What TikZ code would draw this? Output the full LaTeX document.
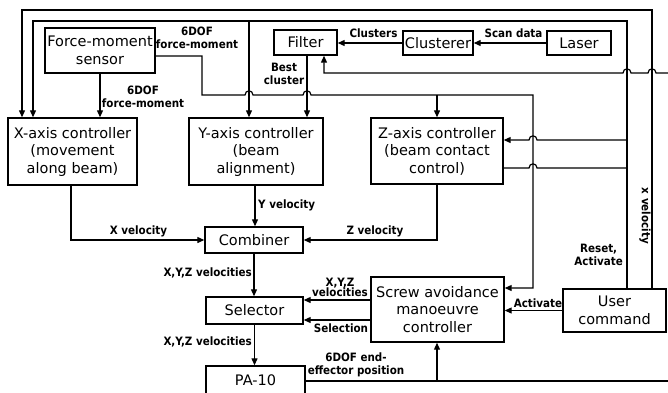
\documentclass[tikz,border=0pt]{standalone}
\usepackage{fontspec}
\setmainfont{DejaVu Sans}
\newfontfamily\lblfont{DejaVu Sans Condensed}
\usetikzlibrary{arrows.meta}

\begin{document}
\begin{tikzpicture}[x=1pt,y=-1pt,
  blk/.style={draw, line width=1.4pt, align=center, inner sep=0pt,
    font=\fontsize{14.5}{17.5}\selectfont},
  lbl/.style={font=\lblfont\bfseries\fontsize{11.5}{12.5}\selectfont,
    inner sep=0pt, align=center},
  wire/.style={line width=1.2pt},
  arr/.style={wire, -{Triangle[length=7pt,width=6pt]}},
]
\useasboundingbox (0,0) rectangle (668,392);

% blocks
\node[blk, minimum width=110pt, minimum height=45pt] (fms) at (100,50.5) {Force-moment\\sensor};
\node[blk, minimum width=63pt, minimum height=25pt] (filter) at (305.5,42.5) {Filter};
\node[blk, minimum width=70pt, minimum height=24pt] (clus) at (438,43) {Clusterer};
\node[blk, minimum width=64pt, minimum height=24pt] (laser) at (579,43) {Laser};
\node[blk, minimum width=129pt, minimum height=67pt] (xc) at (72.5,151.5) {X-axis controller\\(movement\\along beam)};
\node[blk, minimum width=134pt, minimum height=67pt] (yc) at (256,151.5) {Y-axis controller\\(beam\\alignment)};
\node[blk, minimum width=132pt, minimum height=66pt] (zc) at (437,151) {Z-axis controller\\(beam contact\\control)};
\node[blk, minimum width=98pt, minimum height=26pt] (comb) at (254,240) {Combiner};
\node[blk, minimum width=97pt, minimum height=27pt] (sel) at (254.5,310.5) {Selector};
\node[blk, minimum width=133pt, minimum height=65pt] (screw) at (437.5,309.5) {Screw avoidance\\manoeuvre\\controller};
\node[blk, minimum width=99pt, minimum height=28pt] (pa) at (255.5,380) {PA-10};
\node[blk, minimum width=103pt, minimum height=43pt] (user) at (614.5,310.5) {User\\command};

% force-moment sensor outputs
\draw[arr] (fms.south) -- (fms.south |- xc.north);
\draw[arr] ([yshift=-5.5pt]fms.east) -| (202,95)
  -- (245,95) .. controls (245,89.5) and (253,89.5) .. (253,95)
  -- (303,95) .. controls (303,89.5) and (311,89.5) .. (311,95)
  -- (533,95) |- (screw.east |- 0,288);
\draw[arr] (zc.north |- 0,95) -- (zc.north);

% user command feedback loops
\draw[arr] (652,0 |- user.north) -- (652,10) -| (22,0 |- xc.north);
\draw[arr] (627,0 |- user.north) -- (627,21) -| (33,0 |- xc.north);
\draw[arr] (249,21) -- (249,0 |- yc.north);
\draw[arr] (627,140) -- (537,140) .. controls (537,134.5) and (529,134.5) .. (529,140)
  -- (zc.east |- 0,140);
\draw[wire] (627,168) -- (537,168) .. controls (537,162.5) and (529,162.5) .. (529,168)
  -- (zc.east |- 0,168);

% laser processing chain
\draw[arr] (laser.west) -- (laser.west -| clus.east);
\draw[arr] (clus.west) -- (clus.west -| filter.east);
\draw[arr] (670,73) -- (656,73) .. controls (656,67.5) and (648,67.5) .. (648,73)
  -- (631,73) .. controls (631,67.5) and (623,67.5) .. (623,73)
  -- (324,73) -- (324,0 |- filter.south);
\draw[arr] (307,0 |- filter.south) -- (307,0 |- yc.north);

% velocity paths
\draw[arr] (71,0 |- xc.south) |- (comb.west);
\draw[arr] (255,0 |- yc.south) -- (255,0 |- comb.north);
\draw[arr] (437,0 |- zc.south) |- (comb.east);
\draw[arr] (comb.south) -- (comb.south |- sel.north);
\draw[arr] (screw.west |- 0,300) -- (sel.east |- 0,300);
\draw[arr] (screw.west |- 0,320) -- (sel.east |- 0,320);
\draw[arr] (sel.south) -- (sel.south |- pa.north);
\draw[wire] (pa.east |- 0,381) -- (670,381);
\draw[arr] (437,381) -- (437,0 |- screw.south);
\draw[arr] (user.west) -- (user.west -| screw.east);

% labels
\node[lbl] (l1) at (197,38) {6DOF\\force-moment};
\node[lbl] (l2) at (143,97) {6DOF\\force-moment};
\node[lbl] (l3) at (284,74) {Best\\cluster};
\node[lbl] (l4) at (373.5,33) {Clusters};
\node[lbl] (l5) at (513.5,33) {Scan data};
\node[lbl] (l6) at (138.5,231) {X velocity};
\node[lbl, anchor=west] (l7) at (258,205) {Y velocity};
\node[lbl] (l8) at (375,231) {Z velocity};
\node[lbl, anchor=east] (l9) at (252,273) {X,Y,Z velocities};
\node[lbl, anchor=east] (l10) at (252,342) {X,Y,Z velocities};
\node[lbl] (l11) at (340,287.5) {X,Y,Z\\[-2pt]velocities};
\node[lbl] (l12) at (341,328) {Selection};
\node[lbl] (l13) at (356,365) {6DOF end-\\effector position};
\node[lbl] (l14) at (538,303) {Activate};
\node[lbl, anchor=east] (l15) at (623,255) {Reset,\\Activate};
\node[lbl, rotate=-90] (l16) at (645,216) {x velocity};
\end{tikzpicture}
\end{document}
